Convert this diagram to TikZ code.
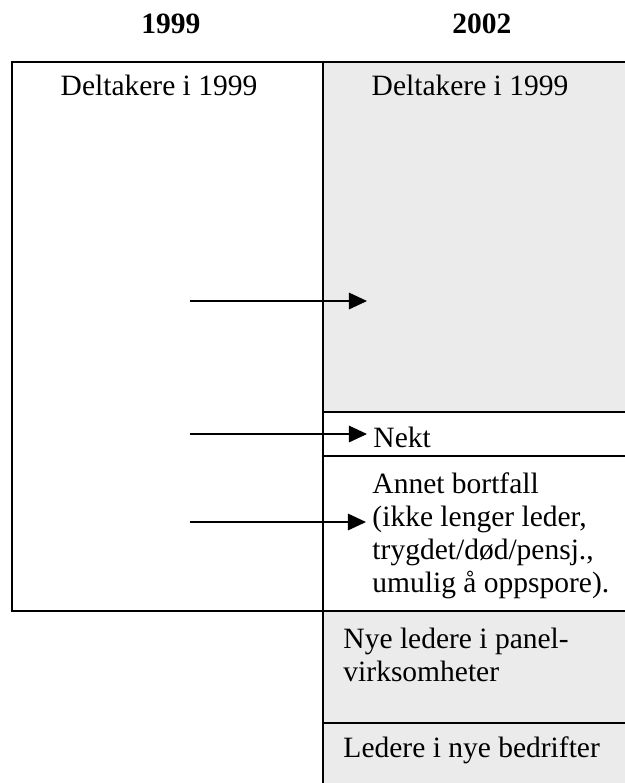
\documentclass[tikz,border=0pt]{standalone}
\usepackage{fontspec}
\setmainfont{Liberation Serif}
\usetikzlibrary{arrows.meta}
\definecolor{pShade}{HTML}{EBEBEB}
\definecolor{pInk}{HTML}{000000}
\begin{document}
\begin{tikzpicture}[
  x=0.4pt, y=-0.4pt,
  every node/.style={font=\fontsize{11.8pt}{13.2pt}\selectfont, text=pInk},
  yearlab/.style={anchor=base, font=\fontsize{11.8pt}{13.2pt}\selectfont\bfseries},
  colhead/.style={anchor=base, inner sep=0pt},
  celltext/.style={anchor=base west, align=left, inner xsep=2.4pt, inner ysep=0pt},
  frame/.style={draw=pInk, line width=.8pt},
  flow/.style={draw=pInk, line width=.55pt, -{Triangle[length=7.2pt,width=6.6pt]}},
]
\useasboundingbox (0,0) rectangle (625,783);

% ---- shaded cells of the 2002 column -------------------------------------
\fill[pShade] (323,62) rectangle (625,412);
\fill[pShade] (323,611) rectangle (625,783);

% ---- frame ---------------------------------------------------------------
\draw[frame] (12,62) rectangle (323,611);
\draw[frame] (323,62) -- (625,62);
\draw[frame] (323,62) -- (323,783);
\draw[frame] (323,412) -- (625,412);
\draw[frame] (323,456) -- (625,456);
\draw[frame] (323,611) -- (625,611);
\draw[frame] (323,723) -- (625,723);

% ---- years ---------------------------------------------------------------
\node[yearlab] (y99) at (171,33) {1999};
\node[yearlab] (y02) at (482,33) {2002};

% ---- cell texts (multi-line ones sit on their last baseline) -------------
\node[colhead] (old99) at (159,95) {Deltakere i 1999};
\node[colhead] (old02) at (470,95) {Deltakere i 1999};
\node[celltext] (nekt) at (367,447) {Nekt};
\node[celltext] (loss) at (366,592)
  {Annet bortfall\\(ikke lenger leder,\\trygdet/død/pensj.,\\umulig å oppspore).};
\node[celltext] (newmgr) at (337,681) {Nye ledere i panel-\\virksomheter};
\node[celltext] (newfirm) at (337,757) {Ledere i nye bedrifter};

% ---- arrows from 1999 to 2002 --------------------------------------------
\coordinate (stayS) at (190,301);
\coordinate (stayE) at (367,301);
\coordinate (nektS) at (190,434);
\coordinate (lossS) at (190,522);
\draw[flow] (stayS) -- (stayE);
\draw[flow] (nektS) -- (nektS -| nekt.west);
\draw[flow] (lossS) -- (lossS -| loss.west);
\end{tikzpicture}
\end{document}
